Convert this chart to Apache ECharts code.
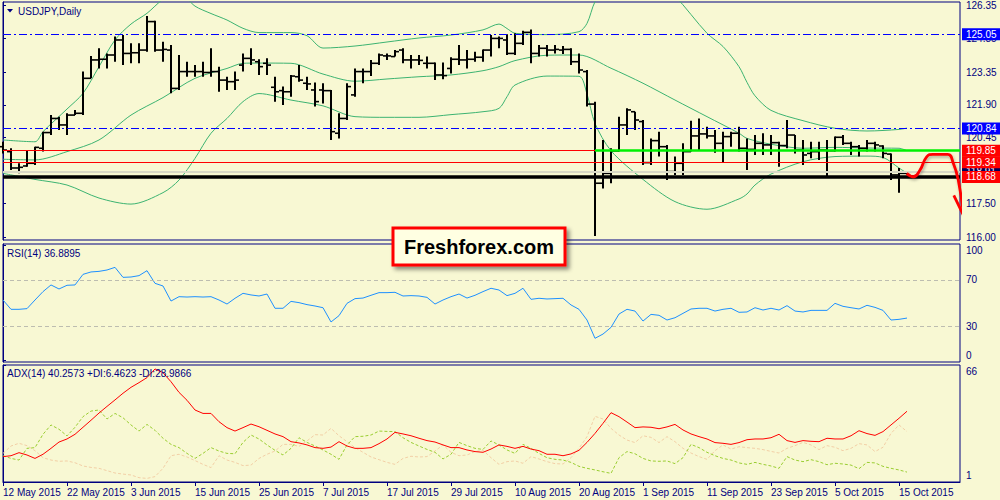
<!DOCTYPE html>
<html><head><meta charset="utf-8">
<script src="https://cdn.jsdelivr.net/npm/echarts@6/dist/echarts.min.js"></script>
<style>html,body{margin:0;padding:0;background:#F8F8D3;}#c{width:1000px;height:500px;}</style>
</head><body><div id="c"></div>
<script>
// ---------- data ----------
const xTickBars = [0,8,16,24,32,40,48,56,64,72,80,88,96,104,112];
const xTickLabels = ['12 May 2015','22 May 2015','3 Jun 2015','15 Jun 2015','25 Jun 2015','7 Jul 2015','17 Jul 2015','29 Jul 2015','10 Aug 2015','20 Aug 2015','1 Sep 2015','11 Sep 2015','23 Sep 2015','5 Oct 2015','15 Oct 2015'];
const priceTicks = [116.00,117.50,120.45,121.90,123.35,124.85,126.35];
const rsiTicks = [0,30,70,100];
const rsiLevels = [70,30];
const adxTicks = [1,66];

const openP = [120.03,119.81,119.08,119.17,119.29,119.96,120.66,121.29,121.00,121.44,
121.52,123.08,123.90,123.93,124.12,124.79,124.19,124.22,124.34,125.61,
124.34,124.34,122.63,123.38,123.38,123.38,123.34,123.38,123.00,122.93,
123.67,123.97,123.82,123.75,122.68,122.53,122.48,123.15,122.86,122.56,
122.56,122.53,120.63,121.29,122.34,123.38,123.38,123.75,124.08,124.05,
124.34,123.90,123.90,123.75,123.75,123.23,123.52,123.93,123.90,123.93,
124.02,124.34,124.86,124.79,124.19,124.64,125.13,124.19,124.42,124.34,
124.34,124.37,123.82,123.38,121.93,118.40,118.84,119.84,121.00,121.59,
121.15,119.32,120.30,120.03,118.92,119.29,119.81,120.51,120.60,120.51,
120.18,120.48,120.63,119.96,119.91,120.18,120.11,120.21,120.08,120.55,
119.88,119.73,119.81,119.88,119.85,120.45,120.18,120.03,119.96,120.18,
120.06,119.70,118.77,118.84];
const highP = [120.25,119.96,119.29,119.88,120.03,120.70,121.44,121.37,121.52,121.67,
123.38,124.08,124.42,124.19,124.94,125.01,124.64,124.64,125.86,125.65,
124.71,124.57,124.12,123.82,123.67,123.82,124.42,123.60,123.15,123.38,
124.19,124.42,123.93,123.97,123.15,122.71,123.23,123.67,123.15,122.89,
122.86,122.56,121.52,122.86,123.52,123.52,123.90,124.19,124.19,124.34,
124.42,124.12,124.12,124.05,123.78,123.78,124.02,124.57,124.34,124.27,
124.37,125.01,124.94,125.04,125.09,125.20,125.26,124.57,124.57,124.57,
124.52,124.42,124.19,123.45,122.04,120.33,119.96,121.37,121.74,121.59,
121.22,120.40,120.70,120.11,119.59,120.18,121.19,121.29,120.92,120.77,
120.70,120.70,120.92,120.40,120.55,120.63,120.55,120.25,121.22,120.55,
120.33,120.25,120.25,120.33,120.48,120.55,120.25,120.11,120.33,120.25,
120.09,119.73,119.08,118.93];
const lowP = [119.73,118.99,118.84,119.14,119.21,119.81,120.55,120.77,120.55,121.44,
121.44,123.08,123.52,123.52,123.82,123.67,123.75,123.75,124.27,124.27,
123.82,122.41,122.56,123.15,123.15,123.15,123.15,122.48,122.56,122.56,
123.38,123.67,123.23,123.23,122.04,121.89,122.26,122.93,122.56,121.82,
121.96,120.33,120.40,121.22,122.26,122.86,123.18,123.67,123.90,124.05,
123.75,123.52,123.67,123.52,123.00,123.04,123.30,123.67,123.52,123.82,
123.82,124.05,124.42,124.12,124.12,124.57,123.75,124.05,124.05,124.19,
124.17,123.67,123.30,121.82,116.05,118.17,118.40,119.81,120.55,120.77,
119.21,119.21,119.59,118.54,118.77,118.77,119.81,119.88,120.40,119.76,
119.32,120.03,119.81,118.99,119.66,119.66,119.66,119.14,119.96,119.73,
119.21,119.51,119.44,118.69,119.81,120.11,119.66,119.59,119.81,119.81,
119.51,118.54,117.98,118.81];
const closeP = [119.88,119.08,119.11,119.29,120.00,120.66,121.29,121.00,121.44,121.52,
123.08,123.90,123.93,124.12,124.79,124.19,124.22,124.34,125.61,124.34,
124.37,122.63,123.38,123.38,123.38,123.34,123.38,123.00,122.93,123.00,
123.97,123.90,123.60,123.67,122.48,122.48,123.18,123.00,122.83,122.04,
122.53,120.70,121.29,122.71,123.38,123.38,123.75,124.12,124.08,124.27,
123.90,123.90,123.88,123.75,123.23,123.20,123.93,123.90,123.93,124.02,
124.34,124.86,124.86,124.19,124.64,125.13,124.19,124.42,124.34,124.37,
124.37,123.82,123.45,121.93,118.40,118.84,119.84,121.00,121.67,121.22,
119.32,120.30,120.03,118.92,119.29,119.81,120.51,120.60,120.51,120.18,
120.48,120.63,119.96,119.91,120.18,120.11,120.21,120.08,120.55,119.88,
119.66,119.81,119.88,119.85,120.45,120.18,120.03,119.96,120.18,120.11,
119.73,118.77,118.84,118.91];

// Bollinger bands (read at sampled bars)
const ubIdx = [0,4,5,8,10,12,14,16,18,20,22,24,26,28,30,32,36,38,40,44,48,52,56,60,62,63,64,68,72,73,74,76,80,84,88,90,92,93,94,96,100,104,108,112,113];
const ubVal = [120.33,120.25,120.70,121.71,122.41,123.60,124.79,125.50,125.98,126.60,126.90,126.30,125.97,125.68,125.31,125.12,125.12,124.98,124.43,124.52,124.70,124.88,125.01,125.24,125.50,125.30,125.09,125.03,125.16,125.53,126.50,127.60,128.00,126.75,125.09,124.50,123.60,122.90,122.30,121.65,121.19,120.85,120.73,120.80,120.86];
const mbIdx = [0,4,8,12,16,20,24,28,30,32,36,40,44,48,52,56,60,62,64,68,72,76,80,84,88,92,93,96,100,104,108,112,113];
const mbVal = [119.47,119.44,119.81,120.33,121.44,122.22,123.08,123.52,123.75,123.76,123.75,123.27,122.95,123.05,123.15,123.23,123.42,123.60,123.87,124.11,124.12,123.53,122.86,122.11,121.37,120.63,120.40,120.14,119.96,120.00,119.97,119.96,119.85];
const lbIdx = [0,4,8,12,16,20,22,24,26,28,30,32,36,40,44,48,52,56,60,62,63,64,68,72,73,74,76,80,84,88,92,93,94,96,100,104,108,110,112,113];
const lbVal = [118.84,118.57,118.32,117.74,117.47,117.98,118.54,119.51,120.63,121.29,122.04,122.40,122.11,121.85,121.37,121.34,121.34,121.46,121.59,121.74,122.26,122.78,123.18,123.17,122.38,121.07,119.85,118.57,117.58,117.24,117.70,117.92,118.32,118.81,119.36,119.59,119.61,119.55,119.08,118.84];

// horizontal levels
const blueLevels = [125.05,120.84];
const redLevels = [119.85,119.34];
const supportLevel = 118.68;
const bidPrice = 118.91;
const greenLevel = 119.85, greenFromBar = 74;

// drawn forecast arrow (bar index, price)
const arrowX = [112.96,113.8,114.63,115.46,116.25,118.1,118.79,119.41,120.04];
const arrowY = [118.84,118.69,118.99,119.58,119.69,119.69,119.29,118.54,117.06];
const headX = [118.85,120.04,120.6];
const headY = [117.86,116.98,117.80];

const rsi = [52.6,44.5,44.5,45.1,52.6,59.9,65.7,62.2,65.4,65.7,
74.9,77.0,77.5,78.7,81.0,72.3,72.6,73.8,78.1,67.1,
64.8,51.7,55.5,55.2,55.5,55.2,55.5,52.6,49.1,54.1,
58.4,57.0,56.1,57.8,45.4,45.4,51.4,50.3,48.6,47.4,
45.9,33.5,39.0,49.7,53.8,54.3,56.7,59.0,59.0,59.3,
56.1,56.4,56.1,54.9,49.1,52.6,55.5,57.8,54.3,56.7,
59.9,62.8,61.3,56.4,58.4,62.8,53.2,54.1,53.5,53.8,
54.1,48.3,44.5,35.2,19.3,23.0,28.8,40.4,44.5,43.0,
34.3,40.1,39.3,35.2,37.2,41.0,44.8,45.4,45.4,43.0,
44.5,45.4,41.9,42.2,45.9,43.9,45.4,43.9,47.7,43.0,
42.2,43.6,43.6,43.6,49.7,47.1,45.9,44.8,48.0,46.2,
43.6,35.2,35.8,36.9];
const adx = [15.1,15.6,17.3,16.0,14.1,16.4,19.7,23.2,24.9,27.5,
31.4,35.3,39.3,43.0,46.6,50.3,53.6,56.2,59.0,63.8,
61.7,56.7,50.8,46.4,41.0,39.1,39.1,34.5,31.2,29.3,
31.2,33.2,31.7,29.7,27.7,26.2,23.4,22.7,21.6,20.1,
19.7,20.4,23.4,21.0,19.7,19.7,20.1,22.3,24.9,28.6,
27.7,26.7,25.3,24.0,23.2,21.6,20.1,20.1,18.8,17.9,
17.5,19.3,21.6,20.8,19.7,20.8,19.3,18.4,16.4,16.4,
15.6,16.6,18.6,23.0,28.0,33.6,39.5,37.3,34.3,31.2,
31.6,31.4,30.6,31.6,33.0,29.9,27.7,26.2,24.9,22.9,
22.5,21.9,22.9,24.5,24.9,24.9,25.6,27.5,24.0,23.0,
24.0,23.6,23.4,25.3,24.9,24.9,26.7,29.5,27.9,26.9,
29.0,32.7,36.4,40.3];
const plusDI = [15.6,14.1,13.2,19.7,20.1,27.5,32.7,30.3,26.6,31.4,
37.3,40.4,41.0,36.0,39.1,36.7,32.7,29.3,33.0,29.7,
25.3,21.9,20.1,16.9,14.1,16.9,20.1,18.2,16.9,16.7,
23.0,27.1,24.9,21.6,18.6,16.0,19.7,25.6,23.0,21.0,
18.8,16.4,13.6,21.6,26.2,26.4,27.1,29.3,29.1,29.0,
25.6,23.0,21.0,19.1,17.5,13.8,16.4,23.0,21.2,19.7,
19.1,23.8,21.6,18.8,16.9,21.9,19.7,16.9,14.5,13.6,
13.2,11.9,9.7,8.6,7.7,6.7,5.8,14.5,17.9,16.7,
14.1,12.7,12.5,12.7,11.2,14.5,21.9,20.1,17.5,15.6,
14.1,13.2,11.6,10.8,11.9,10.8,9.9,8.6,15.1,13.2,
12.3,13.4,12.3,10.6,11.4,11.0,10.4,8.4,11.9,11.6,
9.7,8.6,7.7,6.5];
const minusDI = [16.9,21.0,22.5,21.2,18.4,14.5,13.2,12.5,12.7,11.7,
9.9,9.1,8.6,7.3,6.0,5.4,4.9,3.4,3.0,4.0,
8.6,15.6,16.4,14.9,12.9,10.8,9.0,15.6,13.2,11.9,
10.1,10.4,14.1,16.4,18.2,21.9,21.9,20.8,23.8,27.3,
27.1,30.8,26.7,23.4,20.1,17.5,14.9,13.4,11.9,10.8,
14.1,15.3,14.9,15.1,18.2,21.6,17.5,15.6,16.0,17.9,
18.6,14.5,10.8,12.3,12.7,11.4,15.1,13.8,12.3,11.2,
11.0,14.5,19.7,26.2,37.5,36.0,30.8,27.1,24.3,22.9,
26.7,25.8,22.9,26.2,23.4,19.7,17.1,15.1,13.6,18.4,
21.6,19.3,20.6,20.1,19.7,19.0,18.0,17.1,19.7,21.2,
23.0,21.6,19.0,21.2,20.3,18.4,19.7,22.3,21.6,17.9,
20.3,28.0,32.7,29.0];

// ---------- chart ----------
const NAVY = '#000080';
const FONT = 'Liberation Sans';
const X_MAX = 119.625;
const pairs = (xs, ys) => xs.map((x, k) => [x, ys[k]]);
const seq = ys => ys.map((v, i) => [i, v]);
const bars = openP.map((o, i) => [i, o, highP[i], lowP[i], closeP[i]]);

const chart = echarts.init(document.getElementById('c'), null, {renderer: 'svg', width: 1000, height: 500});

function boxLabel(bg, fmt) {
  return {show: true, position: 'end', distance: 2, formatter: fmt, color: '#FFFFFF',
    backgroundColor: bg, padding: [1, 8, 0, 4], fontSize: 10, lineHeight: 11, fontFamily: FONT};
}
const fmt2 = p => Number(p.value).toFixed(2);

const xAxes = [0, 1, 2].map(k => ({
  type: 'value', gridIndex: k, min: 0, max: X_MAX, show: k === 2,
  splitLine: {show: false},
  axisLine: {show: true, lineStyle: {color: NAVY, width: 1}},
  axisTick: {show: true, customValues: xTickBars, length: 4, lineStyle: {color: NAVY}},
  axisLabel: {show: true, customValues: xTickBars, align: 'left', margin: 5, color: NAVY,
    fontSize: 10, fontFamily: FONT,
    formatter: v => xTickLabels[xTickBars.indexOf(Math.round(v))] || ''}
}));

const yCommon = {
  type: 'value', position: 'right', splitLine: {show: false},
  axisLine: {show: true, lineStyle: {color: NAVY, width: 1}},
};

const option = {
  backgroundColor: '#F8F8D3',
  animation: false,
  textStyle: {fontFamily: FONT, fontSize: 10},
  grid: [
    {left: 3, right: 40, top: 2, height: 238, show: true, borderColor: NAVY, borderWidth: 1},
    {left: 3, right: 40, top: 244, height: 118, show: true, borderColor: NAVY, borderWidth: 1},
    {left: 3, right: 40, top: 365, height: 117, show: true, borderColor: NAVY, borderWidth: 1}
  ],
  xAxis: xAxes,
  yAxis: [
    Object.assign({}, yCommon, {gridIndex: 0, min: 115.868, max: 126.484,
      axisTick: {show: true, customValues: priceTicks, length: 3, lineStyle: {color: NAVY}},
      axisLabel: {customValues: priceTicks, margin: 6, color: NAVY, fontSize: 10, fontFamily: FONT,
        formatter: v => v.toFixed(2)}}),
    Object.assign({}, yCommon, {gridIndex: 1, min: -1.3, max: 101.3,
      axisTick: {show: true, customValues: rsiTicks, length: 3, lineStyle: {color: NAVY}},
      axisLabel: {customValues: rsiTicks, margin: 6, color: NAVY, fontSize: 10, fontFamily: FONT,
        formatter: v => v === 100 ? '{t|100}' : (v === 0 ? '{b|0}' : String(v)),
        rich: {t: {padding: [10, 0, 0, 0], color: NAVY, fontSize: 10}, b: {padding: [0, 0, 10, 0], color: NAVY, fontSize: 10}}}}),
    Object.assign({}, yCommon, {gridIndex: 2, min: 1, max: 66,
      axisTick: {show: true, customValues: adxTicks, length: 3, lineStyle: {color: NAVY}},
      axisLabel: {customValues: adxTicks, margin: 6, color: NAVY, fontSize: 10, fontFamily: FONT,
        formatter: v => v === 66 ? '{t|66}' : '{b|1}',
        rich: {t: {padding: [13, 0, 0, 0], color: NAVY, fontSize: 10}, b: {padding: [0, 0, 13, 0], color: NAVY, fontSize: 10}}}})
  ],
  series: [
    {name: 'BB upper', type: 'line', xAxisIndex: 0, yAxisIndex: 0, data: pairs(ubIdx, ubVal),
      smooth: 0.3, symbol: 'none', clip: true, z: 2, lineStyle: {color: '#3CB371', width: 1}},
    {name: 'BB middle', type: 'line', xAxisIndex: 0, yAxisIndex: 0, data: pairs(mbIdx, mbVal),
      smooth: 0.3, symbol: 'none', clip: true, z: 2, lineStyle: {color: '#3CB371', width: 1}},
    {name: 'BB lower', type: 'line', xAxisIndex: 0, yAxisIndex: 0, data: pairs(lbIdx, lbVal),
      smooth: 0.3, symbol: 'none', clip: true, z: 2, lineStyle: {color: '#3CB371', width: 1},
      markLine: {
        silent: true, symbol: ['none', 'none'], animation: false,
        data: [
          {yAxis: bidPrice, lineStyle: {color: '#D9D9C6', width: 2, type: 'solid'}, label: boxLabel('#00005A', fmt2)},
          {yAxis: blueLevels[0], lineStyle: {color: '#0000FF', width: 1, type: [8, 3, 2, 3]}, label: boxLabel('#0000FF', fmt2)},
          {yAxis: blueLevels[1], lineStyle: {color: '#0000FF', width: 1, type: [8, 3, 2, 3]}, label: boxLabel('#0000FF', fmt2)},
          {yAxis: redLevels[0], lineStyle: {color: '#FF0000', width: 1, type: 'solid'}, label: boxLabel('#FF0000', fmt2)},
          {yAxis: redLevels[1], lineStyle: {color: '#FF0000', width: 1, type: 'solid'}, label: boxLabel('#FF0000', fmt2)},
          [{coord: [greenFromBar, greenLevel], lineStyle: {color: '#00F000', width: 2.5, type: 'solid'}, label: {show: false}},
           {coord: [X_MAX, greenLevel]}],
          {yAxis: supportLevel, lineStyle: {color: '#000000', width: 3.5, type: 'solid'}, label: boxLabel('#FF0000', fmt2)}
        ]
      }},
    {name: 'USDJPY', type: 'custom', xAxisIndex: 0, yAxisIndex: 0, data: bars, z: 4,
      encode: {x: 0, y: [1, 2, 3, 4]},
      renderItem: function (params, api) {
        const i = api.value(0);
        const pH = api.coord([i, api.value(2)]);
        const pL = api.coord([i, api.value(3)]);
        const pO = api.coord([i, api.value(1)]);
        const pC = api.coord([i, api.value(4)]);
        const cx = Math.round(pH[0]);
        const st = {stroke: '#000000', lineWidth: 1.6};
        return {type: 'group', children: [
          {type: 'line', shape: {x1: cx, y1: pH[1], x2: cx, y2: pL[1]}, style: {stroke: '#000000', lineWidth: 2}},
          {type: 'line', shape: {x1: cx - 4, y1: pO[1], x2: cx, y2: pO[1]}, style: st},
          {type: 'line', shape: {x1: cx, y1: pC[1], x2: cx + 4, y2: pC[1]}, style: st}
        ]};
      }},
    {name: 'forecast', type: 'line', xAxisIndex: 0, yAxisIndex: 0, data: pairs(arrowX, arrowY),
      smooth: 0.5, symbol: 'none', clip: false, z: 8,
      lineStyle: {color: '#FF0000', width: 2.8, shadowColor: 'rgba(0,0,0,0.3)', shadowBlur: 3, shadowOffsetX: 1, shadowOffsetY: 2}},
    {name: 'forecast head', type: 'line', xAxisIndex: 0, yAxisIndex: 0, data: pairs(headX, headY),
      symbol: 'none', clip: false, z: 9, lineStyle: {color: '#FF0000', width: 2.8}},
    {name: 'RSI(14)', type: 'line', xAxisIndex: 1, yAxisIndex: 1, data: seq(rsi), symbol: 'none', z: 3,
      lineStyle: {color: '#1E90FF', width: 1},
      markLine: {silent: true, symbol: ['none', 'none'], label: {show: false}, animation: false,
        lineStyle: {color: '#BDBDB0', width: 1, type: [4, 3]},
        data: rsiLevels.map(v => ({yAxis: v}))}},
    {name: '-DI', type: 'line', xAxisIndex: 2, yAxisIndex: 2, data: seq(minusDI), symbol: 'none', z: 2,
      lineStyle: {color: '#F2CFA6', width: 1, type: [3, 2]}},
    {name: '+DI', type: 'line', xAxisIndex: 2, yAxisIndex: 2, data: seq(plusDI), symbol: 'none', z: 3,
      lineStyle: {color: '#9ACD32', width: 1, type: [3, 2]}},
    {name: 'ADX(14)', type: 'line', xAxisIndex: 2, yAxisIndex: 2, data: seq(adx), symbol: 'none', z: 4,
      lineStyle: {color: '#FF0000', width: 1}}
  ],
  graphic: [
    {type: 'polygon', z: 50, shape: {points: [[7, 9], [13, 9], [10, 12.5]]}, style: {fill: NAVY}},
    {type: 'text', z: 50, x: 18, y: 11, style: {text: 'USDJPY,Daily', fill: NAVY, font: '10px "Liberation Sans"', verticalAlign: 'middle'}},
    {type: 'text', z: 50, x: 7, y: 253, style: {text: 'RSI(14) 36.8895', fill: NAVY, font: '10px "Liberation Sans"', verticalAlign: 'middle'}},
    {type: 'text', z: 50, x: 7, y: 373, style: {text: 'ADX(14) 40.2573 +DI:6.4623 -DI:28.9866', fill: NAVY, font: '10px "Liberation Sans"', verticalAlign: 'middle'}},
    {type: 'group', z: 100, children: [
      {type: 'rect', shape: {x: 393, y: 228, width: 172, height: 37},
        style: {fill: '#FFFFE2', stroke: '#FF0000', lineWidth: 3, shadowBlur: 4, shadowOffsetX: 3, shadowOffsetY: 3, shadowColor: 'rgba(0,0,0,0.45)'}},
      {type: 'text', x: 479, y: 247, style: {text: 'Freshforex.com', fill: '#000000', font: 'bold 20px "Liberation Sans"', align: 'center', verticalAlign: 'middle'}}
    ]}
  ]
};
chart.setOption(option);
</script>
</body></html>
